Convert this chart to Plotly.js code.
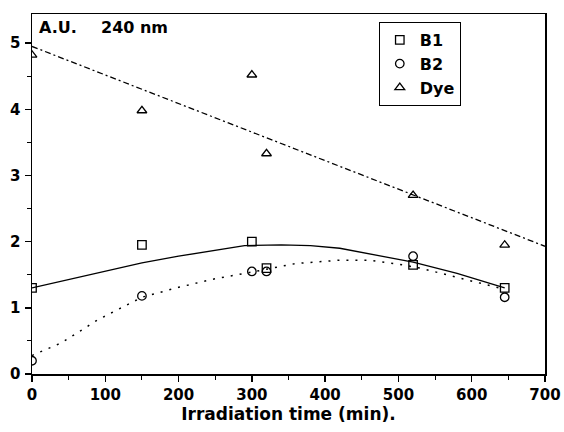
<!DOCTYPE html>
<html>
<head>
<meta charset="utf-8">
<script src="https://cdn.plot.ly/plotly-3.0.1.min.js"></script>
<style>html,body{margin:0;padding:0;background:#fff;}#chart{width:564px;height:432px;}</style>
</head>
<body>
<div id="chart"></div>
<script>
// Measured points
const timeB1 = [0, 150, 300, 320, 520, 645];
const valB1 = [1.30, 1.95, 2.00, 1.60, 1.65, 1.30];
const timeB2 = [0, 150, 300, 320, 520, 645];
const valB2 = [0.20, 1.18, 1.55, 1.55, 1.78, 1.16];
const timeDye = [0, 150, 300, 320, 520, 645];
const valDye = [4.82, 3.98, 4.52, 3.33, 2.70, 1.95];

// Fitted curves
const fitB1x = [0, 100, 150, 200, 250, 290, 340, 380, 420, 470, 520, 580, 645];
const fitB1y = [1.30, 1.56, 1.68, 1.78, 1.87, 1.94, 1.95, 1.94, 1.90, 1.80, 1.69, 1.52, 1.30];
const fitB2x = [0, 40, 90, 150, 200, 250, 300, 360, 420, 460, 500, 530, 580, 645];
const fitB2y = [0.28, 0.47, 0.82, 1.16, 1.31, 1.44, 1.54, 1.67, 1.72, 1.72, 1.66, 1.60, 1.46, 1.28];
const fitDyex = [0, 700];
const fitDyey = [4.95, 1.93];

const fam = '"DejaVu Sans", "Liberation Sans", Arial, sans-serif';
const font = {family: fam, size: 15, color: '#000', weight: 700};
const bigFont = {family: fam, size: 16, color: '#000', weight: 700};
const titleFont = {family: fam, size: 17, color: '#000', weight: 700};

const mk = (sym) => ({symbol: sym, size: 8.5, color: '#000', line: {color: '#000', width: 1.3}});

const traces = [
  {x: fitB1x, y: fitB1y, mode: 'lines', line: {color: '#000', width: 1.3}, showlegend: false, hoverinfo: 'skip'},
  {x: fitB2x, y: fitB2y, mode: 'lines', line: {color: '#000', width: 1.5, dash: '2px,7px'}, showlegend: false, hoverinfo: 'skip'},
  {x: fitDyex, y: fitDyey, mode: 'lines', line: {color: '#000', width: 1.3, dash: '6px,3px,2px,3px'}, showlegend: false, hoverinfo: 'skip'},
  {x: timeB1, y: valB1, mode: 'markers', name: 'B1', marker: mk('square-open')},
  {x: timeB2, y: valB2, mode: 'markers', name: 'B2', marker: mk('circle-open')},
  {x: timeDye, y: valDye, mode: 'markers', name: 'Dye', marker: mk('triangle-up-open')}
];

const layout = {
  width: 564, height: 432,
  margin: {l: 32, r: 19, t: 14, b: 58},
  paper_bgcolor: '#fff', plot_bgcolor: '#fff',
  font: font,
  showlegend: true,
  legend: {x: 0.676, y: 0.978, xanchor: 'left', yanchor: 'top', bordercolor: '#000', borderwidth: 1,
           bgcolor: '#fff', font: bigFont, tracegroupgap: 0, itemwidth: 30},
  xaxis: {range: [0, 700], tick0: 0, dtick: 100, ticks: 'outside', ticklen: 6, tickwidth: 1.5, tickcolor: '#000',
          minor: {dtick: 50, ticks: 'outside', ticklen: 4, tickcolor: '#000', tickwidth: 1},
          showline: true, mirror: true, linecolor: '#000', linewidth: 1.5, showgrid: false, zeroline: false,
          tickfont: font,
          title: {text: 'Irradiation time (min).', font: titleFont, standoff: 5}},
  yaxis: {range: [0, 5.44], tick0: 0, dtick: 1, ticks: 'outside', ticklen: 6, tickwidth: 1.5, tickcolor: '#000',
          minor: {dtick: 0.5, ticks: 'outside', ticklen: 4, tickcolor: '#000', tickwidth: 1},
          showline: true, mirror: true, linecolor: '#000', linewidth: 1.5, showgrid: false, zeroline: false,
          tickfont: font, ticklabelstandoff: 1},
  annotations: [
    {text: '<b>A.U.</b>', xref: 'paper', yref: 'paper', x: 0.01, y: 0.995,
     xanchor: 'left', yanchor: 'top', showarrow: false, font: bigFont},
    {text: '<b>240 nm</b>', xref: 'paper', yref: 'paper', x: 0.131, y: 0.995,
     xanchor: 'left', yanchor: 'top', showarrow: false, font: bigFont}
  ]
};

Plotly.newPlot('chart', traces, layout, {staticPlot: true, displayModeBar: false});
</script>
</body>
</html>
